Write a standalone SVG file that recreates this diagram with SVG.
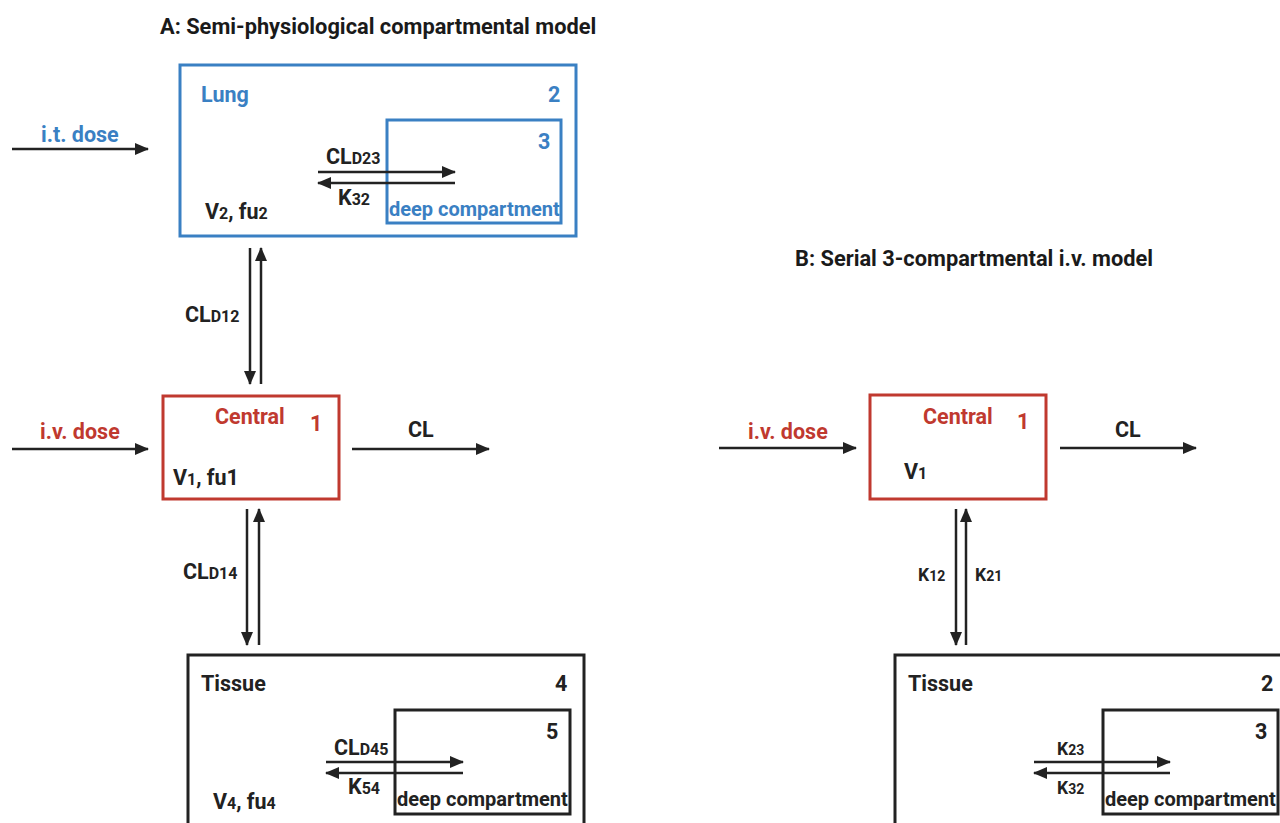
<svg xmlns="http://www.w3.org/2000/svg" width="1280" height="823" viewBox="0 0 1280 823">
<style>
text{font-family:Roboto,"Liberation Sans",sans-serif;font-weight:700;}
.t{font-size:21.8px;fill:#1a1a1a;}
.k{font-size:21.5px;fill:#222;}
.d{font-size:20px;}
.m{font-size:17.5px;}
.s{font-size:16px;}
.ss{font-size:14px;}
.blue{fill:#3a80c3;}
.red{fill:#c0392f;}
.bx{fill:none;stroke-width:3;}
.bb{stroke:#3a80c3;}
.rb{stroke:#c0392f;}
.kb{stroke:#222;}
.ar{stroke:#222;stroke-width:2.5;fill:none;marker-end:url(#ah);}
</style>
<defs>
<marker id="ah" markerUnits="userSpaceOnUse" markerWidth="14" markerHeight="12" refX="13" refY="6" orient="auto">
<path d="M0,0 L14,6 L0,12 Z" fill="#222"/>
</marker>
</defs>
<rect width="1280" height="823" fill="#fff"/>
<text class="t" x="160" y="34">A: Semi-physiological compartmental model</text>
<text class="t" x="795" y="266">B: Serial 3-compartmental i.v. model</text>

<g id="lung">
<rect class="bx bb" x="180" y="65" width="396" height="171"/>
<text class="k blue" x="201" y="102">Lung</text>
<text class="k blue" x="548" y="102">2</text>
<text class="k" x="205" y="219">V<tspan class="s">2</tspan>, fu<tspan class="s">2</tspan></text>
</g>
<g id="lung-deep">
<rect class="bx bb" x="387" y="120" width="174" height="103"/>
<text class="k blue" x="538" y="149">3</text>
<text class="k blue d" x="389" y="216">deep compartment</text>
</g>
<g id="central-a">
<rect class="bx rb" x="163" y="396" width="176" height="103"/>
<text class="k red" x="215" y="424">Central</text>
<text class="k red" x="310" y="431">1</text>
<text class="k" x="173" y="485">V<tspan class="s">1</tspan>, fu1</text>
</g>
<g id="tissue-a">
<rect class="bx kb" x="188" y="655" width="396" height="180"/>
<text class="k" x="201" y="691">Tissue</text>
<text class="k" x="555" y="691">4</text>
<text class="k" x="213" y="809">V<tspan class="s">4</tspan>, fu<tspan class="s">4</tspan></text>
</g>
<g id="tissue-a-deep">
<rect class="bx kb" x="395" y="710" width="175" height="104"/>
<text class="k" x="546" y="739">5</text>
<text class="k d" x="397" y="806">deep compartment</text>
</g>
<g id="central-b">
<rect class="bx rb" x="870" y="395" width="176" height="104"/>
<text class="k red" x="923" y="424">Central</text>
<text class="k red" x="1017" y="429">1</text>
<text class="k" x="904" y="479">V<tspan class="s">1</tspan></text>
</g>
<g id="tissue-b">
<rect class="bx kb" x="895" y="655" width="396" height="180"/>
<text class="k" x="908" y="691">Tissue</text>
<text class="k" x="1261" y="691">2</text>
</g>
<g id="tissue-b-deep">
<rect class="bx kb" x="1103" y="710" width="175" height="104"/>
<text class="k" x="1255" y="739">3</text>
<text class="k d" x="1105" y="806">deep compartment</text>
</g>

<g id="connectors">
<line class="ar" x1="12" y1="149" x2="148" y2="149"/>
<text class="k blue" x="41" y="142">i.t. dose</text>
<line class="ar" x1="318" y1="172" x2="455" y2="172"/>
<line class="ar" x1="455" y1="183" x2="318" y2="183"/>
<text class="k" x="326" y="164">CL<tspan class="s">D23</tspan></text>
<text class="k" x="338" y="205">K<tspan class="s">32</tspan></text>
<line class="ar" x1="250" y1="248" x2="250" y2="384"/>
<line class="ar" x1="261" y1="384" x2="261" y2="248"/>
<text class="k" x="185" y="322">CL<tspan class="s">D12</tspan></text>
<line class="ar" x1="12" y1="449" x2="148" y2="449"/>
<text class="k red" x="40" y="439">i.v. dose</text>
<line class="ar" x1="352" y1="449" x2="489" y2="449"/>
<text class="k" x="408" y="437">CL</text>
<line class="ar" x1="247" y1="509" x2="247" y2="645"/>
<line class="ar" x1="259" y1="645" x2="259" y2="509"/>
<text class="k" x="183" y="579">CL<tspan class="s">D14</tspan></text>
<line class="ar" x1="326" y1="762" x2="463" y2="762"/>
<line class="ar" x1="463" y1="773" x2="326" y2="773"/>
<text class="k" x="334" y="755">CL<tspan class="s">D45</tspan></text>
<text class="k" x="348" y="794">K<tspan class="s">54</tspan></text>
<line class="ar" x1="719" y1="448" x2="856" y2="448"/>
<text class="k red" x="748" y="439">i.v. dose</text>
<line class="ar" x1="1060" y1="448" x2="1196" y2="448"/>
<text class="k" x="1115" y="437">CL</text>
<line class="ar" x1="956" y1="509" x2="956" y2="645"/>
<line class="ar" x1="966" y1="645" x2="966" y2="509"/>
<text class="k m" x="918" y="581">K<tspan class="ss">12</tspan></text>
<text class="k m" x="975" y="581">K<tspan class="ss">21</tspan></text>
<line class="ar" x1="1034" y1="762" x2="1170" y2="762"/>
<line class="ar" x1="1170" y1="773" x2="1034" y2="773"/>
<text class="k m" x="1057" y="755">K<tspan class="ss">23</tspan></text>
<text class="k m" x="1057" y="794">K<tspan class="ss">32</tspan></text>
</g>
</svg>
